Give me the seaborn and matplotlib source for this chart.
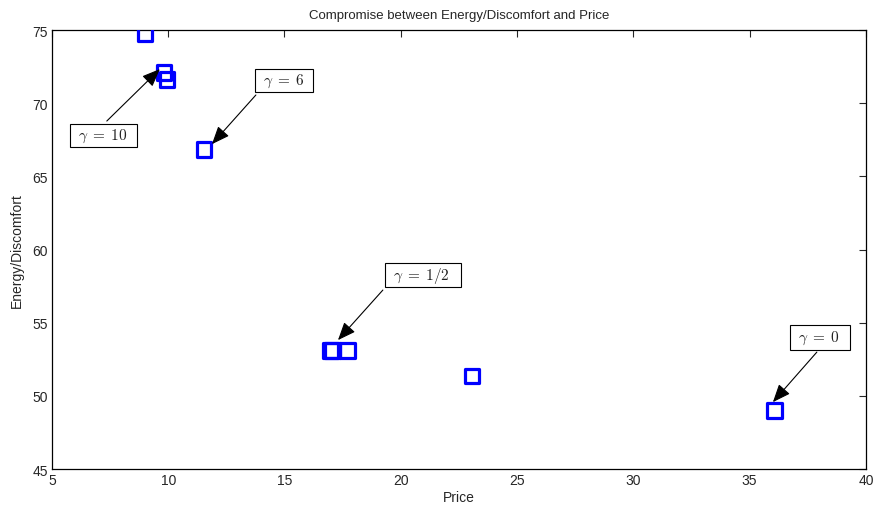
import matplotlib
matplotlib.use("Agg")
import matplotlib.pyplot as plt
from matplotlib.patches import Rectangle
import seaborn as sns
import pandas as pd

# Trade-off points: price vs. energy/discomfort
price = [9.0, 9.82, 9.95, 11.53, 16.98, 17.06, 17.72, 23.06, 36.08]
energy = [74.73, 72.1, 71.62, 66.85, 53.1, 53.1, 53.1, 51.35, 48.98]

# Text arrows: label, arrow tail, arrow head, label box (x0, x1, y0, y1)
labels = [r"$\gamma\;=\;10$", r"$\gamma\;=\;6$", r"$\gamma\;=\;1/2$", r"$\gamma\;=\;0$"]
tails = [(7.36, 68.78), (13.77, 70.56), (19.23, 57.23), (37.89, 52.99)]
heads = [(9.64, 72.33), (11.88, 67.2), (17.3, 53.81), (36.0, 49.57)]
boxes = [(5.774, 8.654, 67.003, 68.575),
         (13.727, 16.221, 70.762, 72.334),
         (19.316, 22.584, 57.433, 59.074),
         (36.729, 39.308, 53.127, 54.836)]

sns.set_style("white")
plt.rcParams["font.family"] = ["Liberation Sans", "DejaVu Sans"]

fig = plt.figure(figsize=(8.8, 5.06), dpi=100)
ax = fig.add_axes([0.059, 0.0711, 0.925, 0.8676])

df = pd.DataFrame({"Price": price, "Energy/Discomfort": energy})
sns.scatterplot(data=df, x="Price", y="Energy/Discomfort", ax=ax,
                marker="s", s=110, facecolor="none", edgecolor="#0000ff",
                linewidth=2.3, zorder=3)

for txt, tail, head, (x0, x1, y0, y1) in zip(labels, tails, heads, boxes):
    ax.annotate("", xy=head, xytext=tail,
                arrowprops=dict(arrowstyle="-|>,head_length=1.1,head_width=0.45",
                                color="black", lw=0.8, shrinkA=0, shrinkB=0),
                zorder=4)
    ax.add_patch(Rectangle((x0, y0), x1 - x0, y1 - y0, fc="white", ec="black",
                           lw=0.8, zorder=5))
    ax.text(x0 + 0.33, (y0 + y1) / 2, txt, ha="left", va="center",
            fontsize=11, math_fontfamily="cm", color="#222222", zorder=6)

ax.set_xlim(5, 40)
ax.set_ylim(45, 75)
ax.set_xticks(range(5, 41, 5))
ax.set_yticks(range(45, 76, 5))
ax.tick_params(direction="in", top=True, right=True, length=5, width=0.8,
               labelsize=10, pad=3)
for sp in ax.spines.values():
    sp.set_linewidth(0.9)
    sp.set_color("black")

ax.set_xlabel("Price", fontsize=10, labelpad=2)
ax.set_ylabel("Energy/Discomfort", fontsize=10, labelpad=6)
ax.set_title("Compromise between Energy/Discomfort and Price", fontsize=9.5, pad=9)

fig.savefig("out.png", dpi=100)
